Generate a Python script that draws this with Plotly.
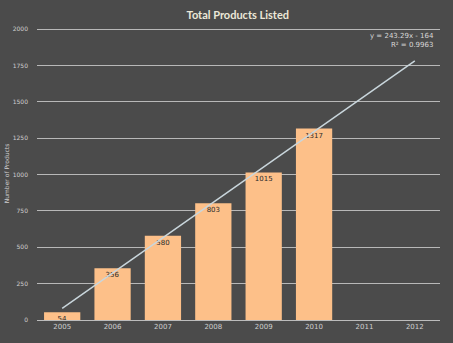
import numpy as np
import plotly.graph_objects as go

years = ["2005", "2006", "2007", "2008", "2009", "2010", "2011", "2012"]
bar_years = ["2005", "2006", "2007", "2008", "2009", "2010"]
products = [54, 356, 580, 803, 1015, 1317]
y_ticks = [0, 250, 500, 750, 1000, 1250, 1500, 1750, 2000]

# linear trendline fitted to the data (x = 1..6), extended to 2012
xs = np.arange(1, len(products) + 1)
slope, intercept = np.polyfit(xs, products, 1)
pred = slope * xs + intercept
r2 = 1 - np.sum((np.array(products) - pred) ** 2) / np.sum((np.array(products) - np.mean(products)) ** 2)
trend_x = [years[0], years[-1]]
trend_y = [slope * 1 + intercept, slope * len(years) + intercept]

BG = "#4b4b4b"
fig = go.Figure()
fig.add_trace(go.Bar(
    x=bar_years, y=products, marker=dict(color="#fdc089", line=dict(width=0)),
    text=[str(v) for v in products], textposition="inside", insidetextanchor="end",
    constraintext="none", cliponaxis=False,
    textfont=dict(size=7, color="#2a2a2a", family="DejaVu Sans"),
))
fig.add_trace(go.Scatter(
    x=trend_x, y=trend_y, mode="lines",
    line=dict(color="#c9d6dc", width=1.5), hoverinfo="skip",
))
sign = "-" if intercept < 0 else "+"
fig.add_annotation(
    x=1, xref="paper", y=1.0, yref="paper", xanchor="right", yanchor="top",
    text=f"y = {slope:.2f}x {sign} {abs(intercept):.0f}<br>R² = {r2:.4f}",
    showarrow=False, align="right", yshift=-3, xshift=-4,
    font=dict(size=7, color="#d8d8d8", family="DejaVu Sans"),
)
fig.update_layout(
    width=453, height=343,
    margin=dict(l=37, r=13, t=27, b=23),
    paper_bgcolor=BG, plot_bgcolor=BG,
    showlegend=False, bargap=0.28,
    title=dict(text="<b>Total Products Listed</b>", x=0.525, xanchor="center",
               y=0.957, yanchor="middle",
               font=dict(size=11, color="#ece8d8", family="Lato")),
    xaxis=dict(categoryorder="array", categoryarray=years, type="category",
               range=[-0.5, len(years) - 0.5],
               showgrid=False, showline=True, linecolor="#bcbcbc", linewidth=1,
               tickfont=dict(size=7, color="#cfcfcf", family="DejaVu Sans"), ticks=""),
    yaxis=dict(range=[0, 2015], tickvals=y_ticks, showgrid=True, gridcolor="#b8b8b8",
               gridwidth=1, zeroline=False, ticks="", ticklabelstandoff=8,
               automargin=False,
               tickfont=dict(size=6, color="#cfcfcf", family="DejaVu Sans"),
               title=dict(text="Number of Products", standoff=2,
                          font=dict(size=6, color="#cfcfcf", family="DejaVu Sans"))),
)
fig.write_html("out.html")
